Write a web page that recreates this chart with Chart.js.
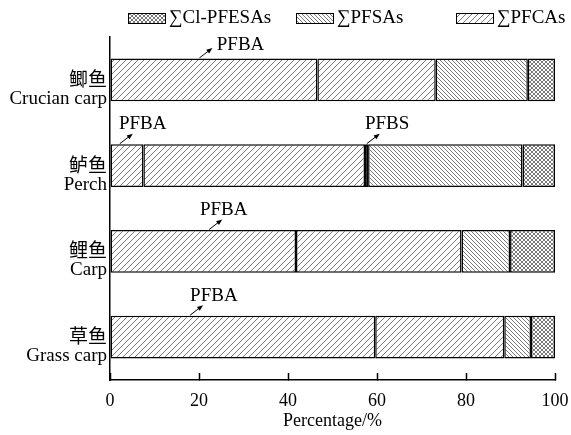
<!DOCTYPE html>
<html>
<head>
<meta charset="utf-8">
<script src="https://cdn.jsdelivr.net/npm/chart.js@4/dist/chart.umd.min.js"></script>
<style>
  html, body { margin: 0; padding: 0; background: #fff; overflow: hidden; }
  #wrap { width: 571px; height: 435px; position: relative; }
</style>
</head>
<body>
<div id="wrap"><canvas id="c"></canvas></div>
<script>
// Fish species (Chinese name + English name)
const categories = [
  ['鲫鱼', 'Crucian carp'],
  ['鲈鱼', 'Perch'],
  ['鲤鱼', 'Carp'],
  ['草鱼', 'Grass carp']
];

// Composition of PFAS in each species, percent of total
const pfba       = [46.6,  7.5, 41.8, 59.6];  // PFBA (part of ∑PFCAs)
const otherPfcas = [26.6, 49.8, 37.2, 29.0];  // remaining ∑PFCAs
const pfbs       = [0,     0.7,  0,    0  ];  // PFBS (part of ∑PFSAs)
const otherPfsas = [20.7, 34.7, 10.9,  6.0];  // remaining ∑PFSAs
const clPfesas   = [6.1,   7.3, 10.1,  5.4];  // ∑Cl-PFESAs

// Percentage axis ticks
const xTicks = [0, 20, 40, 60, 80, 100];

// Legend entries (group names)
const legendLabels = ['∑Cl-PFESAs', '∑PFSAs', '∑PFCAs'];

// Callout labels: text, category index, x of arrow tail (percent), x of text start (percent)
const calloutText     = ['PFBA', 'PFBA', 'PFBS', 'PFBA', 'PFBA'];
const calloutCategory = [0, 1, 1, 2, 3];
const calloutTail     = [20.1, 2.2, 57.7, 22.3, 18.0];
const calloutTextX    = [24.0, 2.0, 57.3, 20.2, 18.0];

const SERIF = '"Liberation Serif", "Times New Roman", "Noto Sans CJK SC", serif';

// ---- hatch patterns ----
function hatch(kind, size) {
  const t = document.createElement('canvas');
  t.width = size; t.height = size;
  const g = t.getContext('2d');
  g.fillStyle = '#fff';
  g.fillRect(0, 0, size, size);
  g.strokeStyle = '#555';
  g.lineWidth = 0.8;
  const fwd = () => {
    g.beginPath();
    g.moveTo(0, size); g.lineTo(size, 0);
    g.moveTo(-1, 1); g.lineTo(1, -1);
    g.moveTo(size - 1, size + 1); g.lineTo(size + 1, size - 1);
    g.stroke();
  };
  const back = () => {
    g.beginPath();
    g.moveTo(0, 0); g.lineTo(size, size);
    g.moveTo(-1, size - 1); g.lineTo(1, size + 1);
    g.moveTo(size - 1, -1); g.lineTo(size + 1, 1);
    g.stroke();
  };
  if (kind === 'fwd' || kind === 'cross') fwd();
  if (kind === 'back' || kind === 'cross') back();
  return document.createElement('canvas').getContext('2d').createPattern(t, 'repeat');
}
const patPFCAs = hatch('fwd', 6);
const patPFSAs = hatch('back', 4);
const patCl    = hatch('cross', 4);
const legendFills = [patCl, patPFSAs, patPFCAs];

function ds(label, data, fill) {
  return {
    label, data,
    backgroundColor: fill,
    borderColor: '#000',
    borderWidth: 1.5,
    borderSkipped: false,
    barPercentage: 0.5,
    categoryPercentage: 1.0
  };
}

// ---- legend drawn across the top ----
const topLegend = {
  id: 'topLegend',
  afterDraw(chart) {
    const ctx = chart.ctx;
    const boxX = [128, 296, 456];
    ctx.save();
    ctx.font = '19px ' + SERIF;
    ctx.textBaseline = 'middle';
    ctx.fillStyle = '#000';
    legendLabels.forEach((txt, i) => {
      ctx.fillStyle = legendFills[i];
      ctx.fillRect(boxX[i], 13, 37, 10);
      ctx.strokeStyle = '#000';
      ctx.lineWidth = 1;
      ctx.strokeRect(boxX[i] + 0.5, 13.5, 37, 10);
      ctx.fillStyle = '#000';
      ctx.fillText(txt, boxX[i] + 41, 18.5);
    });
    ctx.restore();
  }
};

// ---- callout labels with small arrows ----
const callouts = {
  id: 'callouts',
  afterDatasetsDraw(chart) {
    const ctx = chart.ctx;
    const xs = chart.scales.x;
    const bars = chart.getDatasetMeta(0).data;
    ctx.save();
    ctx.font = '19px ' + SERIF;
    ctx.textBaseline = 'middle';
    ctx.textAlign = 'left';
    calloutText.forEach((txt, i) => {
      const bar = bars[calloutCategory[i]];
      const top = bar.y - bar.height / 2;
      const x0 = xs.getPixelForValue(calloutTail[i]);
      const y0 = top - 0.5;
      const x1 = x0 + 13, y1 = y0 - 10;
      ctx.strokeStyle = '#000';
      ctx.fillStyle = '#000';
      ctx.lineWidth = 1;
      ctx.beginPath();
      ctx.moveTo(x0, y0);
      ctx.lineTo(x1 - 3, y1 + 2.3);
      ctx.stroke();
      const ang = Math.atan2(y1 - y0, x1 - x0);
      const hl = 6, hw = 2.4;
      ctx.beginPath();
      ctx.moveTo(x1, y1);
      ctx.lineTo(x1 - hl * Math.cos(ang) + hw * Math.sin(ang), y1 - hl * Math.sin(ang) - hw * Math.cos(ang));
      ctx.lineTo(x1 - hl * Math.cos(ang) - hw * Math.sin(ang), y1 - hl * Math.sin(ang) + hw * Math.cos(ang));
      ctx.closePath();
      ctx.fill();
      const tx = xs.getPixelForValue(calloutTextX[i]);
      const ty = (i === 0) ? top - 13 : top - 20;
      ctx.fillText(txt, tx, ty);
    });
    ctx.restore();
  }
};

new Chart(document.getElementById('c'), {
  type: 'bar',
  data: {
    labels: categories,
    datasets: [
      ds('PFBA', pfba, patPFCAs),
      ds('∑PFCAs', otherPfcas, patPFCAs),
      ds('PFBS', pfbs, patPFSAs),
      ds('∑PFSAs', otherPfsas, patPFSAs),
      ds('∑Cl-PFESAs', clPfesas, patCl)
    ]
  },
  options: {
    indexAxis: 'y',
    responsive: true,
    maintainAspectRatio: false,
    animation: false,
    layout: { padding: { top: 37, right: 16, bottom: 0, left: 0 } },
    plugins: {
      legend: { display: false },
      tooltip: { enabled: false }
    },
    scales: {
      x: {
        type: 'linear',
        stacked: true,
        min: 0, max: 100,
        afterBuildTicks(scale) { scale.ticks = xTicks.map(v => ({ value: v })); },
        afterFit(scale) {
          scale.height = 55;
          scale.paddingLeft = 0;
          scale.paddingRight = 0;
        },
        grid: {
          drawOnChartArea: false,
          drawTicks: true,
          tickLength: -7,
          tickWidth: 1.5,
          tickColor: '#000'
        },
        border: { display: true, color: '#000', width: 1.5 },
        ticks: {
          color: '#000',
          padding: 17,
          maxRotation: 0,
          font: { family: SERIF, size: 18 }
        },
        title: {
          display: true,
          text: 'Percentage/%',
          color: '#000',
          font: { family: SERIF, size: 18 },
          padding: { top: 0, bottom: 3 }
        }
      },
      y: {
        stacked: true,
        afterFit(scale) { scale.width = 110; },
        grid: { drawOnChartArea: false, drawTicks: false },
        border: { display: true, color: '#000', width: 1.5 },
        ticks: {
          color: '#000',
          padding: 3,
          labelOffset: 10,
          font: { family: SERIF, size: 19, lineHeight: 0.95 }
        }
      }
    }
  },
  plugins: [topLegend, callouts]
});
</script>
</body>
</html>
